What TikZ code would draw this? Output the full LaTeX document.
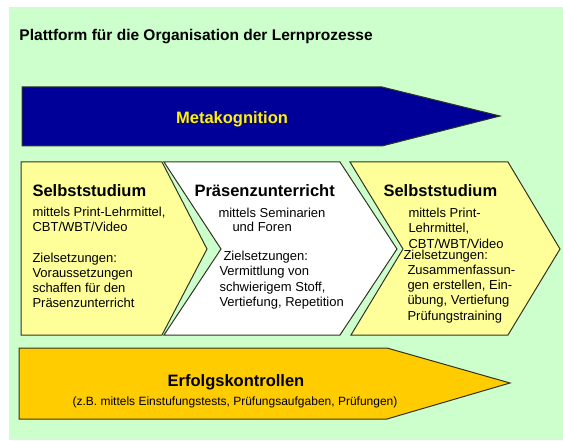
\documentclass[tikz,border=0pt]{standalone}
\usepackage{fontspec}
\setmainfont{Liberation Sans}
\definecolor{cbg}{HTML}{CCFFCC}
\definecolor{cnavy}{HTML}{000099}
\definecolor{cpale}{HTML}{FFFF99}
\definecolor{cgold}{HTML}{FFCC00}
\definecolor{cedge}{HTML}{333322}

\begin{document}
\begin{tikzpicture}[x=1pt,y=-1pt,line width=1pt,
  band/.style={draw=cedge,line join=miter},
  title node/.style={anchor=base west,inner sep=0pt,font=\fontsize{15.5}{18}\selectfont\bfseries},
  head node/.style={anchor=base west,inner sep=0pt,font=\fontsize{16.5}{20}\selectfont\bfseries},
  body node/.style={anchor=base west,inner sep=0pt,font=\fontsize{13}{15}\selectfont}]
  \useasboundingbox (0,0) rectangle (563,441);
  \fill[cbg] (9,7) rectangle (563,440);
  \node[title node] (title) at (19,41) {Plattform für die Organisation der Lernprozesse};

  % arrows and chevrons
  \filldraw[band,fill=cnavy] (22,87) -- (382,87) -- (500,116) -- (382,146) -- (22,146) -- cycle;
  \filldraw[band,fill=cpale] (21,162) -- (162,162) -- (207,249) -- (162,335) -- (21,335) -- cycle;
  \filldraw[band,fill=white] (164,162) -- (340,162) -- (397,249) -- (340,335) -- (164,335) -- (221,249) -- cycle;
  \filldraw[band,fill=cpale] (350,162) -- (508,162) -- (560,249) -- (508,335) -- (351,335) -- (403,249) -- cycle;
  \filldraw[band,fill=cgold] (19,348) -- (387,348) -- (510,383) -- (387,419) -- (19,419) -- cycle;

  \node[head node,anchor=base,text=yellow] (meta) at (232,124) {Metakognition};

  % left column
  \node[head node] (lhead) at (32,197) {Selbststudium};
  \foreach \txt [count=\i] in {{mittels Print-Lehrmittel,},{CBT/WBT/Video}}
    \node[body node] (la\i) at (32,202+15*\i) {\txt};
  \foreach \txt [count=\i] in {{Zielsetzungen:},{Voraussetzungen},{schaffen für den},{Präsenzunterricht}}
    \node[body node] (lb\i) at (32,247+15*\i) {\txt};

  % middle column
  \node[head node] (mhead) at (194,197) {Präsenzunterricht};
  \node[body node] (ma1) at (218,218) {mittels Seminarien};
  \node[body node] (ma2) at (232,232) {und Foren};
  \node[body node] (mb0) at (223,261) {Zielsetzungen:};
  \foreach \txt [count=\i] in {{Vermittlung von},{schwierigem Stoff,},{Vertiefung, Repetition}}
    \node[body node] (mb\i) at (219,261+15*\i) {\txt};

  % right column
  \node[head node] (rhead) at (383,197) {Selbststudium};
  \foreach \txt [count=\i] in {{mittels Print-},{Lehrmittel,},{CBT/WBT/Video}}
    \node[body node] (ra\i) at (408,203+15*\i) {\txt};
  \node[body node] (rb0) at (403,260) {Zielsetzungen:};
  \foreach \txt [count=\i] in {{Zusammenfassun-},{gen erstellen, Ein-},{übung, Vertiefung},{Prüfungstraining}}
    \node[body node] (rb\i) at (407,260+15*\i) {\txt};

  % bottom arrow
  \node[head node,anchor=base] (erfolg) at (236,386) {Erfolgskontrollen};
  \node[body node,anchor=base,font=\fontsize{12}{14}\selectfont] (erfolgsub) at (235,405)
    {(z.B. mittels Einstufungstests, Prüfungsaufgaben, Prüfungen)};
\end{tikzpicture}
\end{document}
